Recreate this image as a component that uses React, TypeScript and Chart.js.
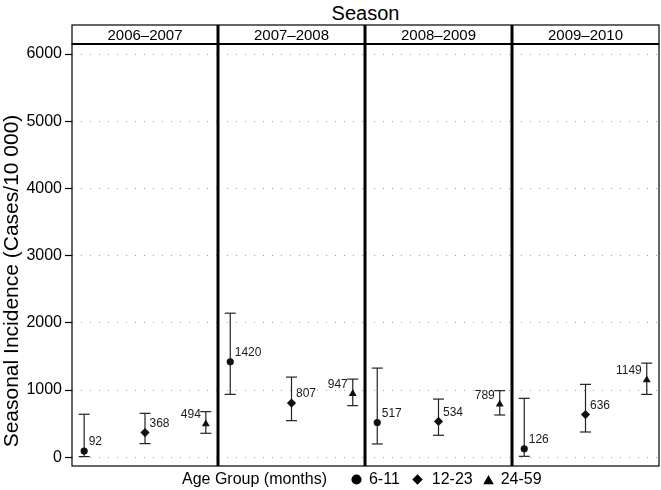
import React, { useEffect, useRef } from 'react';
import { Chart, registerables } from 'chart.js';

Chart.register(...registerables);

// ---- data ----
const seasons = ['2006–2007', '2007–2008', '2008–2009', '2009–2010'];
const ageGroups = ['6-11', '12-23', '24-59'];
const est611 = [92, 1420, 517, 126];
const lo611 = [10, 936, 198, 14];
const hi611 = [640, 2144, 1327, 877];
const est1223 = [368, 807, 534, 636];
const lo1223 = [203, 545, 327, 376];
const hi1223 = [654, 1193, 866, 1085];
const est2459 = [494, 947, 789, 1149];
const lo2459 = [357, 768, 629, 936];
const hi2459 = [679, 1163, 991, 1401];
const yTicks = [0, 1000, 2000, 3000, 4000, 5000, 6000];
const groupPositions = [1, 2, 3];

const chartTitle = 'Season';
const yTitle = 'Seasonal Incidence (Cases/10 000)';
const legendTitle = 'Age Group (months)';

// ---- style ----
const FONT = '"Liberation Sans", Arial, Helvetica, sans-serif';
const pointStyles = ['circle', 'rectRot', 'triangle'];
const pointRadii = [3.6, 4.6, 4.6];
const STRIP_TOP = 25;
const AREA_TOP = 44;
const AREA_BOTTOM = 466;
const H = 490;

const panelsLayout = [
  { left: 0, width: 218, padRight: 0 },
  { left: 218, width: 147, padRight: 0 },
  { left: 365, width: 147, padRight: 0 },
  { left: 512, width: 149, padRight: 2 },
];

function line(ctx: CanvasRenderingContext2D, x1: number, y1: number, x2: number, y2: number) {
  ctx.beginPath();
  ctx.moveTo(x1, y1);
  ctx.lineTo(x2, y2);
  ctx.stroke();
}

function Panel({ index }: { index: number }) {
  const ref = useRef<HTMLCanvasElement | null>(null);
  const lay = panelsLayout[index];
  useEffect(() => {
    const est = [est611[index], est1223[index], est2459[index]];
    const lo = [lo611[index], lo1223[index], lo2459[index]];
    const hi = [hi611[index], hi1223[index], hi2459[index]];
    const first = index === 0;
    const last = index === seasons.length - 1;

    const errorBars = {
      id: 'errorBars',
      beforeDatasetsDraw(chart: any) {
        const { ctx } = chart;
        const ys = chart.scales.y;
        ctx.save();
        ctx.strokeStyle = '#222';
        ctx.lineWidth = 1.2;
        chart.data.datasets.forEach((_: any, k: number) => {
          const pt = chart.getDatasetMeta(k).data[0];
          const x = pt.x;
          const yl = ys.getPixelForValue(lo[k]);
          const yh = ys.getPixelForValue(hi[k]);
          line(ctx, x, yl, x, yh);
          line(ctx, x - 5.5, yl, x + 5.5, yl);
          line(ctx, x - 5.5, yh, x + 5.5, yh);
        });
        ctx.restore();
      },
    };

    const labels = {
      id: 'valueLabels',
      afterDatasetsDraw(chart: any) {
        const { ctx } = chart;
        ctx.save();
        ctx.font = `12px ${FONT}`;
        ctx.fillStyle = '#1a1a1a';
        ctx.textBaseline = 'middle';
        chart.data.datasets.forEach((_: any, k: number) => {
          const pt = chart.getDatasetMeta(k).data[0];
          if (k < 2) {
            ctx.textAlign = 'left';
            ctx.fillText(String(est[k]), pt.x + 4.5, pt.y - 9);
          } else {
            ctx.textAlign = 'right';
            ctx.fillText(String(est[k]), pt.x - 5, pt.y - 9);
          }
        });
        ctx.restore();
      },
    };

    const frame = {
      id: 'frame',
      afterDraw(chart: any) {
        const { ctx } = chart;
        const { left, right, top, bottom } = chart.chartArea;
        ctx.save();
        ctx.strokeStyle = '#000';
        ctx.lineWidth = 1.2;
        ctx.strokeRect(left, STRIP_TOP, right - left, top - STRIP_TOP);
        ctx.strokeRect(left, top, right - left, bottom - top);
        ctx.lineWidth = 2;
        line(ctx, left, top, right, top);
        ctx.lineWidth = 3;
        if (!first) line(ctx, left, STRIP_TOP, left, bottom);
        if (!last) line(ctx, right, STRIP_TOP, right, bottom);
        ctx.fillStyle = '#000';
        ctx.font = `15px ${FONT}`;
        ctx.textAlign = 'center';
        ctx.textBaseline = 'middle';
        ctx.fillText(seasons[index], (left + right) / 2, (STRIP_TOP + top) / 2 + 1);
        if (first) {
          ctx.save();
          ctx.translate(12, 281);
          ctx.rotate(-Math.PI / 2);
          ctx.font = `21px ${FONT}`;
          ctx.fillText(yTitle, 0, 0);
          ctx.restore();
        }
        ctx.restore();
      },
    };

    const chart = new Chart(ref.current as HTMLCanvasElement, {
      type: 'scatter',
      data: {
        datasets: ageGroups.map((g, k) => ({
          label: g,
          data: [{ x: groupPositions[k], y: est[k] }],
          pointStyle: pointStyles[k] as any,
          pointRadius: pointRadii[k],
          pointBackgroundColor: '#111',
          pointBorderColor: '#111',
          pointBorderWidth: 0,
          showLine: false,
        })),
      },
      options: {
        responsive: false,
        maintainAspectRatio: false,
        animation: false,
        events: [],
        layout: {
          autoPadding: false,
          padding: { top: AREA_TOP, bottom: H - AREA_BOTTOM, left: 0, right: lay.padRight },
        },
        plugins: {
          legend: { display: false },
          tooltip: { enabled: false },
          title: { display: false },
        },
        scales: {
          x: { type: 'linear', min: 0.8, max: 3.2, display: false },
          y: {
            type: 'linear',
            min: -130,
            max: 6150,
            afterBuildTicks: (s: any) => {
              s.ticks = yTicks.map((v) => ({ value: v }));
            },
            afterFit: (s: any) => {
              s.width = first ? 72 : 0;
            },
            grid: {
              color: '#9a9a9a',
              lineWidth: 1,
              drawTicks: first,
              tickLength: 7,
              tickColor: '#000',
              tickWidth: 1.2,
              tickBorderDash: [],
            },
            border: { display: false, dash: [1, 8] },
            ticks: {
              display: first,
              padding: 3,
              color: '#000',
              font: { family: FONT, size: 16 },
              callback: (v: any) => String(v),
            },
            title: { display: false },
          },
        },
      },
      plugins: [errorBars, labels, frame],
    } as any);
    return () => chart.destroy();
  }, []);
  return (
    <canvas
      ref={ref}
      width={lay.width}
      height={H}
      style={{ position: 'absolute', left: lay.left, top: 0, width: lay.width, height: H }}
    />
  );
}

function Marker({ kind }: { kind: number }) {
  const s = 11;
  return (
    <svg width={s} height={s} viewBox="0 0 10 10" style={{ display: 'block' }}>
      {kind === 0 && <circle cx="5" cy="5" r="4.6" fill="#000" />}
      {kind === 1 && <polygon points="5,0.2 9.8,5 5,9.8 0.2,5" fill="#000" />}
      {kind === 2 && <polygon points="5,0.8 9.8,9.4 0.2,9.4" fill="#000" />}
    </svg>
  );
}

export default function App() {
  const gapsBefore = [24, 12, 10];
  return (
    <div style={{ position: 'absolute', left: 0, top: 0, width: 661, height: H, background: '#fff', fontFamily: FONT }}>
      <div
        style={{
          position: 'absolute', left: 72, width: 587, top: 1, height: 24, lineHeight: '24px',
          textAlign: 'center', fontSize: 20, color: '#000',
        }}
      >
        {chartTitle}
      </div>
      {seasons.map((_, i) => (
        <Panel key={i} index={i} />
      ))}
      <div
        style={{
          position: 'absolute', left: 182, top: 469, height: 20, display: 'flex',
          alignItems: 'center', fontSize: 16, color: '#000', whiteSpace: 'nowrap',
        }}
      >
        <span>{legendTitle}</span>
        {ageGroups.map((g, k) => (
          <React.Fragment key={g}>
            <span style={{ marginLeft: gapsBefore[k] }}>
              <Marker kind={k} />
            </span>
            <span style={{ marginLeft: k === 1 ? 9 : 7 }}>{g}</span>
          </React.Fragment>
        ))}
      </div>
    </div>
  );
}
